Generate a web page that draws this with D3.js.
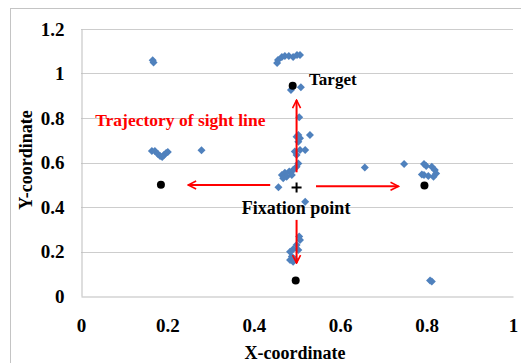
<!DOCTYPE html>
<html>
<head>
<meta charset="utf-8">
<script src="https://cdn.jsdelivr.net/npm/d3@7"></script>
<style>
  body { margin: 0; background: #fff; }
  svg text { font-family: "Liberation Serif", "Times New Roman", serif !important; font-weight: bold; }
</style>
</head>
<body>
<div id="chart"></div>
<script>
// gaze samples (blue diamonds)
const gazeX = [
  0.166, 0.168,
  0.454, 0.456, 0.465, 0.472, 0.481, 0.491, 0.500, 0.507,
  0.486, 0.509,
  0.505, 0.503, 0.499, 0.507, 0.530, 0.503, 0.495, 0.507, 0.519, 0.499,
  0.503, 0.499, 0.491, 0.482, 0.472, 0.465, 0.476, 0.488, 0.468, 0.457,
  0.519,
  0.505, 0.507, 0.499, 0.491, 0.484, 0.503, 0.488, 0.484, 0.491, 0.495,
  0.164, 0.171, 0.178, 0.183, 0.188, 0.192, 0.197, 0.201,
  0.279,
  0.657, 0.748, 0.794, 0.799, 0.812, 0.819, 0.822, 0.816, 0.804, 0.794, 0.789,
  0.808, 0.812
];
const gazeY = [
  1.060, 1.050,
  1.047, 1.061, 1.074, 1.079, 1.079, 1.074, 1.083, 1.083,
  0.926, 0.938,
  0.803, 0.724, 0.716, 0.709, 0.724, 0.693, 0.649, 0.656, 0.656, 0.634,
  0.596, 0.581, 0.566, 0.559, 0.554, 0.544, 0.536, 0.544, 0.529, 0.489,
  0.424,
  0.267, 0.252, 0.229, 0.210, 0.199, 0.207, 0.177, 0.162, 0.154, 0.165,
  0.652, 0.652, 0.638, 0.629, 0.625, 0.634, 0.643, 0.647,
  0.655,
  0.578, 0.593, 0.593, 0.584, 0.581, 0.566, 0.551, 0.536, 0.539, 0.544, 0.546,
  0.070, 0.065
];

// target dots (black)
const targetX = [0.490, 0.185, 0.795, 0.497];
const targetY = [0.945, 0.500, 0.497, 0.070];

// fixation point
const fixX = 0.499;
const fixY = 0.488;

// red arrows: [x1, y1, x2, y2]
const arrows = [
  [0.499, 0.556, 0.499, 0.880],
  [0.499, 0.342, 0.499, 0.148],
  [0.438, 0.499, 0.248, 0.499],
  [0.544, 0.493, 0.735, 0.493]
];

const xTicks = [0, 0.2, 0.4, 0.6, 0.8, 1];
const yTicks = [0, 0.2, 0.4, 0.6, 0.8, 1, 1.2];

const width = 521, height = 363;
const margin = { top: 29, right: 8, bottom: 67, left: 81 };

const svg = d3.select('#chart').append('svg')
  .attr('width', width)
  .attr('height', height);

// chart area border
svg.append('rect')
  .attr('x', 10.5).attr('y', 8.5)
  .attr('width', 600).attr('height', 400)
  .attr('fill', 'none')
  .attr('stroke', '#c4c4c4');

const x = d3.scaleLinear().domain([0, 1]).range([margin.left, width - margin.right]);
const y = d3.scaleLinear().domain([0, 1.2]).range([height - margin.bottom, margin.top]);

// gridlines
svg.append('g')
  .selectAll('line')
  .data(yTicks.filter(d => d > 0))
  .enter().append('line')
  .attr('x1', x(0)).attr('x2', x(1))
  .attr('y1', d => Math.round(y(d)) + 0.5)
  .attr('y2', d => Math.round(y(d)) + 0.5)
  .attr('stroke', '#cdcdcd');

// axes
const xAxis = svg.append('g')
  .attr('transform', `translate(0,${Math.round(y(0)) + 0.5})`)
  .call(d3.axisBottom(x).tickValues(xTicks).tickSize(0).tickPadding(22).tickFormat(d3.format('')));
xAxis.select('.domain').attr('stroke', '#bdbdbd');
xAxis.selectAll('text').attr('fill', '#000').style('font-size', '19px');

const yAxis = svg.append('g')
  .attr('transform', `translate(${Math.round(x(0)) + 0.5},0)`)
  .call(d3.axisLeft(y).tickValues(yTicks).tickSize(0).tickPadding(17).tickFormat(d3.format('')));
yAxis.select('.domain').attr('stroke', '#bdbdbd');
yAxis.selectAll('text').attr('fill', '#000').style('font-size', '19px');

// axis titles
svg.append('text')
  .attr('x', 295).attr('y', 359)
  .attr('text-anchor', 'middle')
  .style('font-size', '18px')
  .text('X-coordinate');

svg.append('text')
  .attr('transform', 'translate(32,160) rotate(-90)')
  .attr('text-anchor', 'middle')
  .style('font-size', '18px')
  .text('Y-coordinate');

// gaze diamonds
const diamond = d3.symbol(d3.symbolSquare, 32);
svg.append('g')
  .selectAll('path')
  .data(gazeX.map((d, i) => [d, gazeY[i]]))
  .enter().append('path')
  .attr('d', diamond)
  .attr('transform', d => `translate(${x(d[0])},${y(d[1])}) rotate(45)`)
  .attr('fill', '#4f81bd');

// arrows
svg.append('defs').append('marker')
  .attr('id', 'head')
  .attr('viewBox', '0 0 10 10')
  .attr('refX', 9).attr('refY', 5)
  .attr('markerWidth', 5).attr('markerHeight', 5)
  .attr('markerUnits', 'strokeWidth')
  .attr('orient', 'auto')
  .append('path')
  .attr('d', 'M1,1 L9,5 L1,9')
  .attr('fill', 'none')
  .attr('stroke', '#ff0000')
  .attr('stroke-width', 1.6);

svg.append('g')
  .selectAll('line')
  .data(arrows)
  .enter().append('line')
  .attr('x1', d => x(d[0])).attr('y1', d => y(d[1]))
  .attr('x2', d => x(d[2])).attr('y2', d => y(d[3]))
  .attr('stroke', '#ff0000')
  .attr('stroke-width', 2)
  .attr('marker-end', 'url(#head)');

// target dots
svg.append('g')
  .selectAll('circle')
  .data(targetX.map((d, i) => [d, targetY[i]]))
  .enter().append('circle')
  .attr('cx', d => x(d[0])).attr('cy', d => y(d[1]))
  .attr('r', 4)
  .attr('fill', '#000');

// fixation cross
svg.append('path')
  .attr('d', `M${x(fixX) - 5},${y(fixY)} h10 M${x(fixX)},${y(fixY) - 5} v10`)
  .attr('stroke', '#000')
  .attr('stroke-width', 2);

// annotations
svg.append('text')
  .attr('x', x(0.528)).attr('y', y(0.948))
  .style('font-size', '17px')
  .text('Target');

svg.append('text')
  .attr('x', x(0.230)).attr('y', y(0.762))
  .attr('text-anchor', 'middle')
  .style('font-size', '17.5px')
  .attr('fill', '#ff0000')
  .text('Trajectory of sight line');

svg.append('text')
  .attr('x', x(0.498)).attr('y', y(0.369))
  .attr('text-anchor', 'middle')
  .style('font-size', '18px')
  .text('Fixation point');
</script>
</body>
</html>
